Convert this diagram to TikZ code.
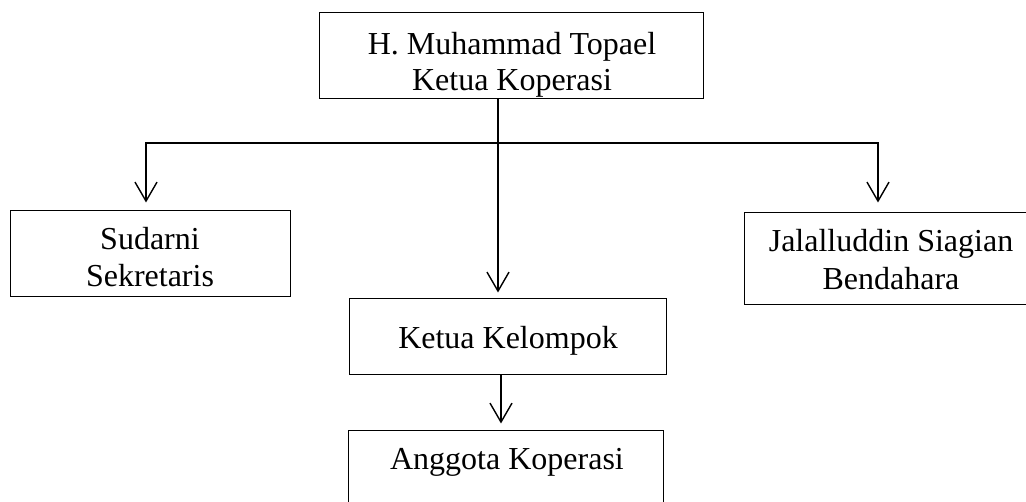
\documentclass[tikz,border=0pt]{standalone}
\usepackage{fontspec}
\setmainfont{Liberation Serif}
\usetikzlibrary{arrows.meta}
\tikzset{
  box/.style={draw=black, line width=1pt, rectangle, inner sep=0pt},
  lbl/.style={inner sep=0pt, align=center, font=\fontsize{32}{37}\selectfont},
  conn/.style={line width=1.6pt, draw=black},
  arr/.style={conn, -{Straight Barb[length=19pt, width=22pt, line width=1.4pt]}},
}
\begin{document}
\begin{tikzpicture}[x=1pt, y=-1pt]
\useasboundingbox (0,0) rectangle (1026,502);
\clip (0,0) rectangle (1026,502);
% boxes
\node[box, minimum width=384pt, minimum height=86pt] (top) at (511,56) {};
\node[lbl, font=\fontsize{32}{36}\selectfont] (topt) at (512,64.5) {H. Muhammad Topael\\Ketua Koperasi};
\node[box, minimum width=280pt, minimum height=86pt] (sud) at (150,254) {};
\node[lbl] (sudt) at (150,257.5) {Sudarni\\Sekretaris};
\node[box, minimum width=300pt, minimum height=92pt] (jal) at (894,259) {};
\node[lbl, font=\fontsize{32}{38}\selectfont] (jalt) at (891,260) {Jalalluddin Siagian\\Bendahara};
\node[box, minimum width=317pt, minimum height=76pt] (kk) at (507.5,337) {};
\node[lbl] (kkt) at (508,340.5) {Ketua Kelompok};
\node[box, minimum width=315pt, minimum height=90pt] (ang) at (505.5,476) {};
\node[lbl] (angt) at (507,462.6) {Anggota Koperasi};
% connectors
\coordinate (j) at (498,143);
\coordinate (jl) at (146,143);
\coordinate (jr) at (878,143);
\draw[arr, shorten >=8pt] (j) -- (jl) -- (jl |- sud.north);
\draw[arr, shorten >=10pt] (j) -- (jr) -- (jr |- jal.north);
\draw[arr, shorten >=6pt] (j |- top.south) -- (j |- kk.north);
\coordinate (k) at (501,375);
\draw[arr, shorten >=7pt] (k |- kk.south) -- (k |- ang.north);
\end{tikzpicture}
\end{document}
